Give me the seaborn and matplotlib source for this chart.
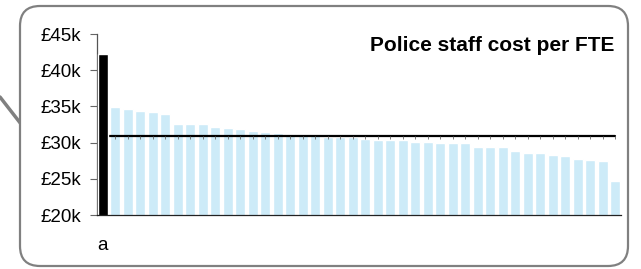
import numpy as np
import pandas as pd
import matplotlib
matplotlib.use("Agg")
import matplotlib.pyplot as plt
from matplotlib.patches import FancyBboxPatch
from matplotlib.lines import Line2D
from matplotlib.ticker import FuncFormatter
import seaborn as sns

# Cost per FTE (in £k), highlighted force first, then the others sorted
highlight_value = [42.3]
other_values = [34.9, 34.6, 34.4, 34.2, 33.9, 32.5, 32.5, 32.5, 32.2, 32.0,
                31.9, 31.6, 31.5, 31.3, 31.2, 31.2, 31.2, 30.8, 30.8, 30.8,
                30.5, 30.4, 30.4, 30.3, 30.1, 30.1, 30.0, 29.9, 29.9, 29.4,
                29.4, 29.4, 28.8, 28.6, 28.5, 28.3, 28.2, 27.8, 27.6, 27.5,
                24.7]
average_value = 30.9
tick_labels = ["a"]
y_ticks = [20, 25, 30, 35, 40, 45]

values = highlight_value + other_values
n = len(values)
df = pd.DataFrame({
    "pos": np.arange(n),
    "cost": values,
    "group": ["highlight"] + ["other"] * len(other_values),
})

sns.set_theme(style="white")
plt.rcParams["font.family"] = ["Liberation Sans", "DejaVu Sans"]

fig = plt.figure(figsize=(6.41, 2.69), dpi=100)
ax = fig.add_axes([97 / 641, 1 - 215 / 269, 524 / 641, 181 / 269])
ax.set_facecolor("none")

sns.barplot(data=df, x="pos", y="cost", hue="group",
            palette={"highlight": "black", "other": "#cdebf8"},
            dodge=False, width=0.8, legend=False, saturation=1, ax=ax)
# blue bars at the back, then the average line, black bar on top
for bar in ax.patches:
    if bar.get_facecolor()[0] < 0.1:
        bar.set_zorder(4)
    else:
        bar.set_zorder(2)

ax.plot(df["pos"], [average_value] * n, color="black", lw=1.6,
        marker=3, markersize=2.2, markeredgecolor="#666666",
        markeredgewidth=0.6, zorder=3)

ax.set_ylim(20, 45)
ax.set_xlim(-0.48, n - 1 + 0.48)
ax.set_yticks(y_ticks)
ax.yaxis.set_major_formatter(FuncFormatter(lambda v, p: f"£{v:.0f}k"))
ax.set_xticks([0])
ax.set_xticklabels(tick_labels)
ax.set_xlabel("")
ax.set_ylabel("")

ax.tick_params(axis="y", which="both", left=True, length=5, width=0.8,
               color="#666666", labelsize=13.5, pad=6.5, labelcolor="black")
ax.tick_params(axis="x", length=0, labelsize=13.5, pad=16, labelcolor="black")

for side in ["top", "right"]:
    ax.spines[side].set_visible(False)
ax.spines["left"].set_color("#555555")
ax.spines["left"].set_linewidth(0.9)
ax.spines["bottom"].set_color("#222222")
ax.spines["bottom"].set_linewidth(0.9)
ax.spines["bottom"].set_zorder(5)

ax.text(0.988, 0.99, "Police staff cost per FTE", transform=ax.transAxes,
        ha="right", va="top", fontsize=15, fontweight="bold", color="black")

# callout pointer and rounded frame
fig.add_artist(Line2D([0.0, 0.21], [1.72, 1.45], transform=fig.dpi_scale_trans,
                      color="#808080", lw=2.5, zorder=-3))
frame = FancyBboxPatch((0.20, 0.03), 6.08, 2.60,
                       boxstyle="round,pad=0,rounding_size=0.2",
                       transform=fig.dpi_scale_trans, facecolor="white",
                       edgecolor="#808080", lw=1.6, zorder=-2)
fig.add_artist(frame)

fig.savefig("out.png", dpi=100)
